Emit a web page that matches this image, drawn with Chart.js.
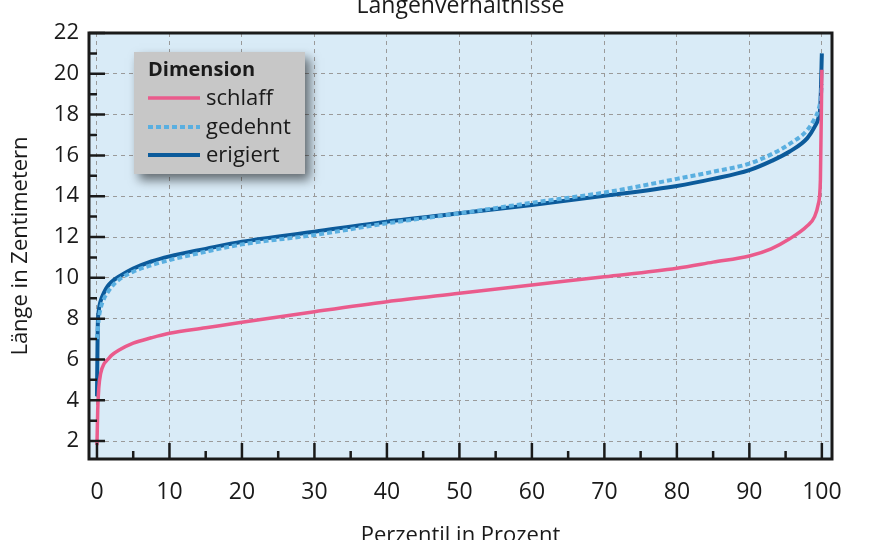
<!DOCTYPE html>
<html>
<head>
<meta charset="utf-8">
<script src="https://cdn.jsdelivr.net/npm/chart.js@4"></script>
<style>
  html, body { margin: 0; padding: 0; background: #fff; }
  #wrap { width: 880px; height: 540px; }
</style>
</head>
<body>
<div id="wrap"><canvas id="chart" width="880" height="540"></canvas></div>
<script>
// Chart data
const percentiles = [0, 0.1, 0.25, 0.5, 1, 1.5, 2, 3, 5, 7.5, 10, 15, 20, 30, 40, 50, 60, 70, 80, 85, 90, 93, 95.5, 98, 99, 99.5, 99.8, 100];
const schlaff  = [1.8, 3.5, 4.6, 5.3, 5.8, 6.0, 6.2, 6.45, 6.8, 7.06, 7.28, 7.55, 7.82, 8.34, 8.83, 9.24, 9.65, 10.05, 10.47, 10.77, 11.07, 11.42, 11.9, 12.55, 13.0, 13.6, 14.8, 20.2];
const gedehnt  = [7.0, 7.4, 8.0, 8.5, 9.0, 9.3, 9.55, 9.9, 10.3, 10.62, 10.87, 11.28, 11.64, 12.1, 12.67, 13.16, 13.68, 14.18, 14.85, 15.2, 15.6, 16.05, 16.55, 17.25, 17.8, 18.2, 18.7, 19.5];
const erigiert = [4.2, 7.5, 8.4, 8.85, 9.3, 9.6, 9.8, 10.05, 10.45, 10.8, 11.05, 11.42, 11.77, 12.26, 12.75, 13.16, 13.57, 14.02, 14.5, 14.85, 15.28, 15.72, 16.18, 16.85, 17.4, 17.8, 18.5, 21.0];

const seriesNames = ['schlaff', 'gedehnt', 'erigiert'];
const legendTitle = 'Dimension';
const xTicks = [0, 10, 20, 30, 40, 50, 60, 70, 80, 90, 100];
const yTicks = [2, 4, 6, 8, 10, 12, 14, 16, 18, 20, 22];
const xMinorStep = 5;
const yMinorStep = 1;

const FONT = "'Open Sans', 'Noto Sans', sans-serif";

function toPoints(values) {
    return percentiles.map((p, i) => ({ x: p, y: values[i] }));
}

// Plot background
const backgroundPlugin = {
    id: 'plotBackground',
    beforeDraw(chart) {
        const { ctx, chartArea: a } = chart;
        ctx.save();
        ctx.fillStyle = '#d9ebf7';
        ctx.fillRect(a.left, a.top, a.right - a.left, a.bottom - a.top);
        ctx.restore();
    }
};

// Frame and inward tick marks
const framePlugin = {
    id: 'frame',
    afterDatasetsDraw(chart) {
        const { ctx, chartArea: a, scales } = chart;
        ctx.save();
        ctx.strokeStyle = '#1a1a1a';
        ctx.lineWidth = 2.5;
        ctx.beginPath();
        const xs = scales.x, ys = scales.y;
        for (let v = Math.ceil(xs.min / xMinorStep) * xMinorStep; v <= xs.max; v += xMinorStep) {
            const px = xs.getPixelForValue(v);
            const len = v % 10 === 0 ? 16 : 8;
            ctx.moveTo(px, a.bottom);
            ctx.lineTo(px, a.bottom - len);
        }
        for (let v = Math.ceil(ys.min / yMinorStep) * yMinorStep; v <= ys.max; v += yMinorStep) {
            const py = ys.getPixelForValue(v);
            const len = v % 2 === 0 ? 16 : 8;
            ctx.moveTo(a.left, py);
            ctx.lineTo(a.left + len, py);
        }
        ctx.stroke();
        ctx.lineWidth = 3;
        ctx.strokeRect(a.left, a.top, a.right - a.left, a.bottom - a.top);
        ctx.restore();
    }
};

// Legend box in the upper left of the plot
const legendBoxPlugin = {
    id: 'legendBox',
    afterDraw(chart) {
        const { ctx } = chart;
        const x = 134, y = 52, w = 171, h = 122;
        ctx.save();
        ctx.shadowColor = 'rgba(0,0,0,0.55)';
        ctx.shadowBlur = 10;
        ctx.shadowOffsetX = 5;
        ctx.shadowOffsetY = 6;
        ctx.fillStyle = '#c7c7c7';
        ctx.fillRect(x, y, w, h);
        ctx.restore();

        ctx.save();
        ctx.fillStyle = '#1a1a1a';
        ctx.textBaseline = 'alphabetic';
        ctx.font = "bold 20px " + FONT;
        ctx.fillText(legendTitle, 148, 76);
        ctx.font = "22px " + FONT;
        const rows = [105, 134, 162];
        seriesNames.forEach((name, i) => {
            const ds = chart.data.datasets.find(d => d.label === name);
            ctx.save();
            ctx.strokeStyle = ds.borderColor;
            ctx.lineWidth = ds.borderWidth;
            ctx.setLineDash(ds.borderDash || []);
            ctx.beginPath();
            ctx.moveTo(148, rows[i] - 7);
            ctx.lineTo(200, rows[i] - 7);
            ctx.stroke();
            ctx.restore();
            ctx.fillText(name, 206, rows[i]);
        });
        ctx.restore();
    }
};

const ctx = document.getElementById('chart');
new Chart(ctx, {
    type: 'line',
    data: {
        datasets: [
            {
                label: 'schlaff',
                data: toPoints(schlaff),
                borderColor: '#ea5b8c',
                borderWidth: 3.5,
                xAxisID: 'x',
                yAxisID: 'y',
                order: 1
            },
            {
                label: 'gedehnt',
                data: toPoints(gedehnt),
                borderColor: '#5aafe0',
                borderWidth: 4,
                borderDash: [5, 3],
                xAxisID: 'x',
                yAxisID: 'y',
                order: 2
            },
            {
                label: 'erigiert',
                data: toPoints(erigiert),
                borderColor: '#0c5b9b',
                borderWidth: 4,
                xAxisID: 'x',
                yAxisID: 'y',
                order: 3
            }
        ]
    },
    options: {
        responsive: false,
        animation: false,
        devicePixelRatio: 1,
        cubicInterpolationMode: 'monotone',
        elements: { point: { radius: 0 } },
        layout: { padding: { right: 48, left: 0, bottom: 0, top: 0 } },
        plugins: {
            legend: { display: false },
            tooltip: { enabled: false },
            title: { display: false }
        },
        scales: {
            x: {
                type: 'linear',
                min: -1.1,
                max: 101.4,
                afterBuildTicks: s => { s.ticks = xTicks.map(v => ({ value: v })); },
                afterFit: s => { s.height = 81; },
                grid: {
                    color: '#9a9a9a',
                    lineWidth: 1,
                    drawTicks: false
                },
                border: { display: false, dash: [4, 4] },
                ticks: {
                    color: '#1a1a1a',
                    font: { family: FONT, size: 23 },
                    padding: 20,
                    maxRotation: 0
                },
                title: {
                    display: true,
                    text: 'Perzentil in Prozent',
                    color: '#1a1a1a',
                    font: { family: FONT, size: 22, lineHeight: 1.2 },
                    padding: { top: 0, bottom: -9 }
                }
            },
            y: {
                min: 1.12,
                max: 22,
                afterBuildTicks: s => { s.ticks = yTicks.map(v => ({ value: v })); },
                afterFit: s => { s.width = 89; },
                grid: {
                    color: '#9a9a9a',
                    lineWidth: 1,
                    drawTicks: false
                },
                border: { display: false, dash: [4, 4] },
                ticks: {
                    color: '#1a1a1a',
                    font: { family: FONT, size: 22 },
                    padding: 10
                },
                title: {
                    display: true,
                    text: 'Länge in Zentimetern',
                    color: '#1a1a1a',
                    font: { family: FONT, size: 22, lineHeight: 1.2 },
                    padding: { top: 8, bottom: 0 }
                }
            },
            // top axis only carries the chart title, centred over the plot
            top: {
                type: 'linear',
                position: 'top',
                min: 0,
                max: 1,
                afterFit: s => { s.height = 33; },
                grid: { display: false, drawTicks: false },
                border: { display: false },
                ticks: { display: false },
                title: {
                    display: true,
                    text: 'Längenverhältnisse',
                    color: '#1a1a1a',
                    font: { family: FONT, size: 23, lineHeight: 1.2 },
                    padding: { top: -7, bottom: 0 }
                }
            }
        }
    },
    plugins: [backgroundPlugin, framePlugin, legendBoxPlugin]
});
</script>
</body>
</html>
